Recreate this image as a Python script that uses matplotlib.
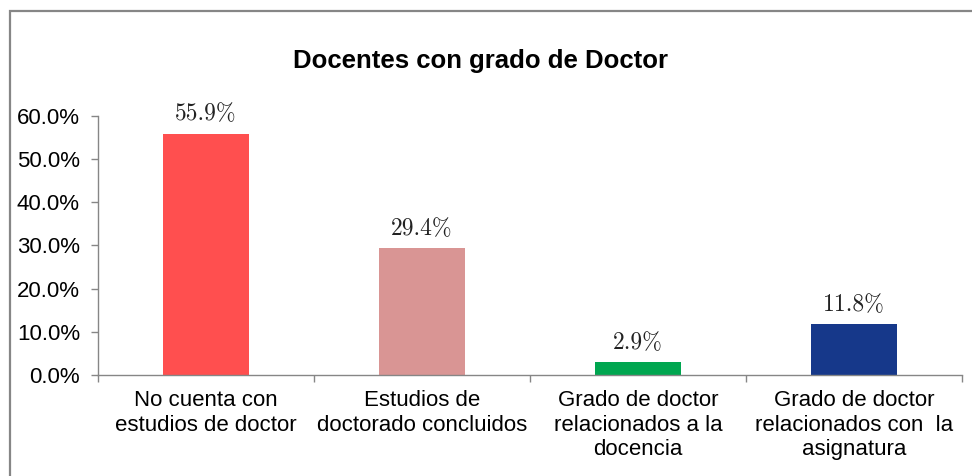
import numpy as np
import matplotlib.pyplot as plt
from matplotlib.patches import Rectangle

categories = ['No cuenta con\nestudios de doctor',
              'Estudios de\ndoctorado concluidos',
              'Grado de doctor\nrelacionados a la\ndocencia',
              'Grado de doctor\nrelacionados con  la\nasignatura']
values = [55.9, 29.4, 2.9, 11.8]
colors = ['#FF4F4F', '#D99594', '#00A650', '#16388A']
yticks = [0, 10, 20, 30, 40, 50, 60]

fig = plt.figure(figsize=(9.72, 4.76), dpi=100)
ax = fig.add_axes([0.1008, 0.2122, 0.8889, 0.5441])

x = np.arange(len(values))
ax.bar(x, values, width=0.4, color=colors)
for xi, v in zip(x, values):
    ax.annotate('%.1f%%' % v, (xi, v), xytext=(0, 6), textcoords='offset points',
                ha='center', va='bottom', fontsize=17, family='cmr10', color='#222222')

ax.set_xlim(-0.5, len(values) - 0.5)
ax.set_ylim(0, 60)
ax.set_yticks(yticks)
ax.set_yticklabels(['%.1f%%' % t for t in yticks], fontsize=16, family='Liberation Sans')
ax.set_xticks(x)
ax.set_xticklabels(categories, fontsize=16, family='Liberation Sans', linespacing=1.22)
ax.set_xticks(np.arange(len(values) + 1) - 0.5, minor=True)
ax.tick_params(axis='x', which='major', length=0, pad=11)
ax.tick_params(axis='x', which='minor', length=5, color='#868686', width=1)
ax.tick_params(axis='y', length=5, color='#868686', width=1, pad=8)

for s in ['top', 'right']:
    ax.spines[s].set_visible(False)
for s in ['left', 'bottom']:
    ax.spines[s].set_color('#868686')
    ax.spines[s].set_linewidth(1)

fig.text(0.494, 0.872, 'Docentes con grado de Doctor', ha='center', va='center',
         fontsize=18.5, fontweight='bold', family='Liberation Sans')

# chart border
fig.patches.append(Rectangle((10 / 972, -0.1), 1.2, 1 - 11 / 476 + 0.1,
                             transform=fig.transFigure, fill=False,
                             edgecolor='#868686', linewidth=1.6))

fig.savefig('out.png', dpi=100)
